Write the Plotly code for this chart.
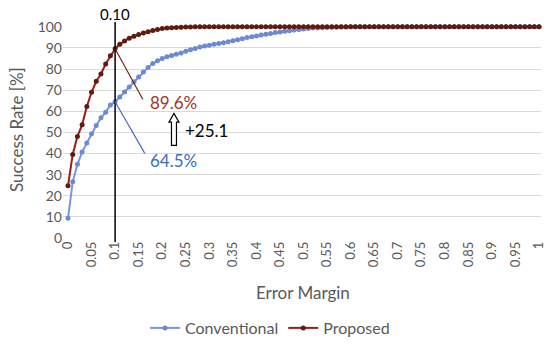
import plotly.graph_objects as go

error_margin = [round(i * 0.01, 2) for i in range(101)]

conventional = [
    9.3, 26.6, 34.9, 40.7, 45.0, 49.4, 53.3, 56.9, 59.6, 63.0,
    64.5, 66.8, 69.2, 71.5, 74.0, 76.3, 78.6, 80.8, 82.6, 84.0,
    85.0, 85.8, 86.4, 87.0, 87.6, 88.4, 89.1, 89.8, 90.4, 90.9,
    91.3, 91.7, 92.1, 92.5, 92.9, 93.4, 93.9, 94.4, 94.9, 95.3,
    95.7, 96.1, 96.5, 96.9, 97.3, 97.6, 97.9, 98.2, 98.5, 98.8,
    99.0, 99.2, 99.4, 99.5, 99.6, 99.7, 99.8, 99.8, 99.9, 99.9,
    100, 100, 100, 100, 100, 100, 100, 100, 100, 100,
    100, 100, 100, 100, 100, 100, 100, 100, 100, 100,
    100, 100, 100, 100, 100, 100, 100, 100, 100, 100,
    100, 100, 100, 100, 100, 100, 100, 100, 100, 100,
    100,
]

proposed = [
    24.7, 39.6, 48.1, 53.6, 62.3, 69.0, 74.2, 77.7, 82.4, 86.3,
    89.6, 91.8, 93.3, 94.6, 95.6, 96.4, 97.1, 97.7, 98.3, 98.8,
    99.2, 99.4, 99.6, 99.7, 99.8, 99.9, 99.9, 100, 100, 100,
    100, 100, 100, 100, 100, 100, 100, 100, 100, 100,
    100, 100, 100, 100, 100, 100, 100, 100, 100, 100,
    100, 100, 100, 100, 100, 100, 100, 100, 100, 100,
    100, 100, 100, 100, 100, 100, 100, 100, 100, 100,
    100, 100, 100, 100, 100, 100, 100, 100, 100, 100,
    100, 100, 100, 100, 100, 100, 100, 100, 100, 100,
    100, 100, 100, 100, 100, 100, 100, 100, 100, 100,
    100,
]

x_tick_vals = [round(i * 0.05, 2) for i in range(21)]
x_tick_text = ["0", "0.05", "0.1", "0.15", "0.2", "0.25", "0.3", "0.35", "0.4", "0.45",
               "0.5", "0.55", "0.6", "0.65", "0.7", "0.75", "0.8", "0.85", "0.9", "0.95", "1"]
y_tick_vals = list(range(0, 101, 10))

marker_x = 0.10
conv_at = 64.5
prop_at = 89.6
gain_text = "+25.1"

FONT = "Lato"
GRAY = "#595959"
BLUE = "#7b94da"
RED = "#9e1b1b"

W, H = 550, 345
PLOT_LEFT, PLOT_RIGHT = 63, 541
PLOT_TOP, PLOT_BOTTOM = 26, 238
PH = PLOT_BOTTOM - PLOT_TOP
PW = PLOT_RIGHT - PLOT_LEFT


def py(px):
    """pixel row -> paper y"""
    return (PLOT_BOTTOM - px) / PH


def pxx(px):
    """pixel column -> paper x"""
    return (px - PLOT_LEFT) / PW


fig = go.Figure()
fig.add_trace(go.Scatter(
    x=error_margin, y=conventional, name="Conventional", mode="lines+markers",
    line=dict(color=BLUE, width=2), marker=dict(color="#6d89d4", size=5),
    cliponaxis=False,
))
fig.add_trace(go.Scatter(
    x=error_margin, y=proposed, name="Proposed", mode="lines+markers",
    line=dict(color=RED, width=2), marker=dict(color="#5c1d0e", size=5),
    cliponaxis=False,
))

# vertical reference line at 0.10
fig.add_shape(type="line", xref="x", yref="paper", x0=marker_x, x1=marker_x,
              y0=py(242), y1=py(22), line=dict(color="black", width=1.5))
fig.add_annotation(x=marker_x, y=py(14), xref="x", yref="paper", text="0.10",
                   showarrow=False, yanchor="middle",
                   font=dict(family=FONT, size=15, color="black"))

# leader lines
fig.add_shape(type="line", xref="x", yref="y", x0=marker_x, y0=prop_at, x1=0.159, y1=65.6,
              line=dict(color="#6b2a12", width=1.2))
fig.add_shape(type="line", xref="x", yref="y", x0=marker_x, y0=conv_at, x1=0.163, y1=40.1,
              line=dict(color="#4a6cc0", width=1.2))

fig.add_annotation(x=0.224, y=64.2, xref="x", yref="y", text=f"{prop_at}%",
                   showarrow=False, font=dict(family=FONT, size=17, color="#a3342a"))
fig.add_annotation(x=0.224, y=36.8, xref="x", yref="y", text=f"{conv_at}%",
                   showarrow=False, font=dict(family=FONT, size=17, color="#3b6cc0"))
fig.add_annotation(x=0.293, y=50.9, xref="x", yref="y", text=gain_text,
                   showarrow=False, font=dict(family=FONT, size=17, color="black"))

# hollow up arrow
fig.add_shape(type="path", xref="x", yref="y",
              path="M 0.2197,43.9 L 0.2197,54.9 L 0.2144,54.9 L 0.225,59.0 L 0.2356,54.9 L 0.2303,54.9 L 0.2303,43.9 Z",
              line=dict(color="black", width=1.2), fillcolor="white")

# axis titles
fig.add_annotation(x=pxx(303), y=py(292), xref="paper", yref="paper", text="Error Margin",
                   showarrow=False, yanchor="middle", xanchor="center",
                   font=dict(family=FONT, size=17, color=GRAY))
fig.add_annotation(x=pxx(16), y=py(130), xref="paper", yref="paper", text="Success Rate [%]",
                   showarrow=False, textangle=-90, yanchor="middle", xanchor="center",
                   font=dict(family=FONT, size=17, color=GRAY))

fig.update_layout(
    width=W, height=H,
    margin=dict(l=PLOT_LEFT, r=W - PLOT_RIGHT, t=PLOT_TOP, b=H - PLOT_BOTTOM, autoexpand=False),
    paper_bgcolor="white", plot_bgcolor="white",
    font=dict(family=FONT, color=GRAY),
    showlegend=True,
    legend=dict(orientation="h", xref="container", yref="container",
                x=270 / W, xanchor="center", y=(H - 328) / H, yanchor="middle",
                font=dict(family=FONT, size=16, color=GRAY), bgcolor="rgba(0,0,0,0)"),
    xaxis=dict(range=[-0.0106, 1.0042], tickvals=x_tick_vals, ticktext=x_tick_text,
               tickangle=-90, tickfont=dict(family=FONT, size=13, color=GRAY),
               showgrid=False, zeroline=False, showline=False, ticks="", automargin=False),
    yaxis=dict(range=[0, 100.4], tickvals=y_tick_vals, tickfont=dict(family=FONT, size=14, color=GRAY),
               showgrid=True, gridcolor="#d9d9d9", gridwidth=1, zeroline=False, showline=False,
               ticks="", automargin=False),
)

fig.write_html("out.html", config={"displayModeBar": False},
               post_script="document.body.style.margin='0';document.body.style.overflow='hidden';")
